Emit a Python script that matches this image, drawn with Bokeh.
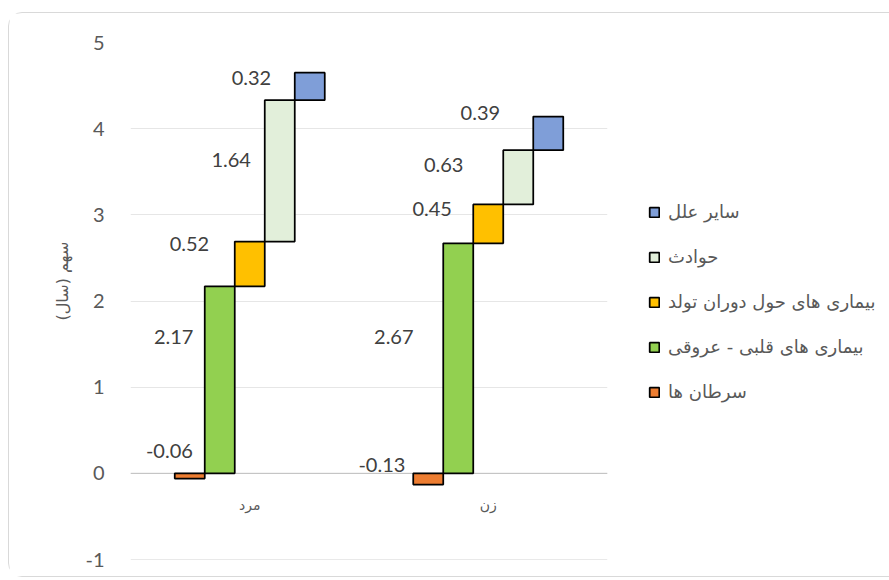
import math
from bokeh.plotting import figure
from bokeh.models import ColumnDataSource, Range1d, FixedTicker, Span, Title, Legend, LegendItem
from bokeh.core.properties import value
from bokeh.embed import file_html
from bokeh.resources import INLINE

# ---------------- data ----------------
categories = ["مرد", "زن"]
series_names = ["سرطان ها", "بیماری های قلبی - عروقی", "بیماری های حول دوران تولد", "حوادث", "سایر علل"]
series_colors = ["#ED7D31", "#92D050", "#FFC000", "#E2EFDA", "#7F9ED8"]
men_values = [-0.06, 2.17, 0.52, 1.64, 0.32]
women_values = [-0.13, 2.67, 0.45, 0.63, 0.39]
y_ticks = [-1, 0, 1, 2, 3, 4, 5]
y_tick_labels = ["-1", "0", "1", "2", "3", "4", "5"]
y_axis_title = "سهم (سال)"

# label placement (offset from category centre in category units, height in value units)
men_label_dx = [-0.337, -0.319, -0.253, -0.078, 0.007]
men_label_y = [0.263, 1.578, 2.661, 3.637, 4.585]
women_label_dx = [-0.446, -0.396, -0.235, -0.187, -0.033]
women_label_y = [0.101, 1.578, 3.067, 3.584, 4.179]

# ---------------- geometry ----------------
cat_centers = [0.5, 1.5]
bar_w = 0.1258

def waterfall(vals):
    running = 0.0
    bottoms, tops = [], []
    for v in vals:
        if v >= 0:
            bottoms.append(running)
            tops.append(running + v)
            running += v
        else:
            bottoms.append(v)
            tops.append(0.0)
    return bottoms, tops

all_vals = [men_values, women_values]
stacks = [waterfall(v) for v in all_vals]

p = figure(frame_width=477, frame_height=517, output_backend="svg", toolbar_location=None,
           x_range=Range1d(0, 2), y_range=Range1d(-1, 5), x_axis_location=None,
           min_border_left=121, min_border_right=280, min_border_top=29, min_border_bottom=17,
           title=None)
p.margin = (12, 0, 0, 8)
p.styles = {"border": "1px solid #d9d9d9", "border-radius": "14px"}
p.outline_line_color = None
p.background_fill_color = "white"
p.border_fill_color = "white"
p.xgrid.visible = False

p.yaxis.ticker = FixedTicker(ticks=y_ticks)
p.yaxis.major_label_overrides = {t: lab for t, lab in zip(y_ticks, y_tick_labels)}
p.ygrid.ticker = FixedTicker(ticks=y_ticks)
p.ygrid.grid_line_color = "#e6e6e6"
p.ygrid.grid_line_width = 1
p.yaxis.axis_line_color = None
p.yaxis.major_tick_line_color = None
p.yaxis.minor_tick_line_color = None
p.yaxis.major_label_standoff = 20
p.yaxis.major_label_text_font = "Lato"
p.yaxis.major_label_text_font_size = "20px"
p.yaxis.major_label_text_color = "#595959"

p.add_layout(Span(location=0, dimension="width", line_color="#bfbfbf", line_width=1, level="underlay"))
p.add_layout(Span(location=-1, dimension="width", line_color="#d4d4d4", line_width=1, level="underlay"))

renderers = []
for i, name in enumerate(series_names):
    xs, bs, ts = [], [], []
    for c, (bots, tops) in zip(cat_centers, stacks):
        xs.append(c + (i - 2) * bar_w)
        bs.append(bots[i])
        ts.append(tops[i])
    src = ColumnDataSource(dict(x=xs, bottom=bs, top=ts))
    r = p.vbar(x="x", bottom="bottom", top="top", width=bar_w, source=src,
               fill_color=series_colors[i], line_color="black", line_width=1.75)
    renderers.append(r)

# data labels
lx, ly, lt = [], [], []
for c, vals, dxs, ys in zip(cat_centers, all_vals, [men_label_dx, women_label_dx], [men_label_y, women_label_y]):
    for v, dx, yy in zip(vals, dxs, ys):
        lx.append(c + dx)
        ly.append(yy)
        lt.append(f"{v:.2f}")
p.text(x=lx, y=ly, text=lt, text_align="center", text_baseline="middle",
       text_font=value("Lato"), text_font_size=value("20px"), text_color="#404040")

# category labels
p.text(x=cat_centers, y=[0, 0], text=categories, y_offset=32, text_align="center",
       text_baseline="middle", text_font=value("DejaVu Sans"), text_font_size=value("14px"),
       text_color="#595959")

# y-axis title
p.add_layout(Title(text=y_axis_title + "\u200f", align="left", offset=239, standoff=22,
                   text_font="DejaVu Sans", text_font_size="16px", text_font_style="normal",
                   text_color="#595959"), "left")

items = [LegendItem(label=series_names[i], renderers=[renderers[i]]) for i in reversed(range(5))]
legend = Legend(items=items, location=(41, 157), orientation="vertical",
                glyph_width=12, glyph_height=12, label_height=20, spacing=24,
                padding=0, margin=0, label_standoff=8,
                label_text_font="DejaVu Sans", label_text_font_size="18px",
                label_text_color="#595959", border_line_color=None, background_fill_alpha=0)
p.add_layout(legend, "right")

open("out.html", "w").write(file_html(p, INLINE))
